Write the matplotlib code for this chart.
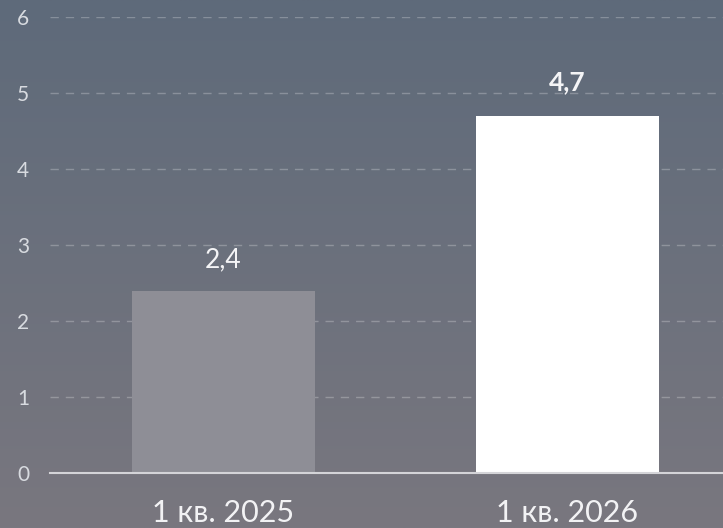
import numpy as np
import matplotlib
matplotlib.use("Agg")
import matplotlib.pyplot as plt

categories = ["1 кв. 2025", "1 кв. 2026"]
values = [2.4, 4.7]
value_labels = ["2,4", "4,7"]
yticks = [0, 1, 2, 3, 4, 5, 6]

plt.rcParams['font.family'] = ['Lato', 'DejaVu Sans']

W, H = 723, 528
fig = plt.figure(figsize=(W / 100, H / 100), dpi=100)

# background gradient
bg = fig.add_axes([0, 0, 1, 1], zorder=-10)
top = np.array([94, 106, 122]) / 255
bot = np.array([121, 119, 127]) / 255
t = np.linspace(0, 1, 256)[:, None]
grad = top[None, :] * (1 - t) + bot[None, :] * t
grad = np.repeat(grad[:, None, :], 2, axis=1)
bg.imshow(grad, aspect='auto', extent=[0, 1, 0, 1], origin='upper')
bg.axis('off')

x0 = 50 / W
y0 = (H - 473) / H
y1 = (H - 17) / H
ax = fig.add_axes([x0, y0, 1 - x0, y1 - y0])
ax.patch.set_alpha(0)

x = np.arange(len(categories))
colors = ["#8e8e96", "#ffffff"]
ax.bar(x, values, width=0.532, color=colors, zorder=3)

ax.set_xlim(-0.504, 1.452)
ax.set_ylim(0, 6)
ax.set_yticks(yticks)
ax.set_yticklabels([str(v) for v in yticks])
for yv in yticks[1:]:
    ax.axhline(yv, color=(1, 1, 1, 0.25), lw=1, ls=(0, (6, 5)), zorder=1)

for s in ['top', 'right', 'left']:
    ax.spines[s].set_visible(False)
ax.spines['bottom'].set_color('#d4d4d8')
ax.spines['bottom'].set_linewidth(1.5)
ax.spines['bottom'].set_zorder(4)

ax.tick_params(axis='y', length=0, labelsize=15, labelcolor='#d8dbe0', pad=0)
for lbl in ax.get_yticklabels():
    lbl.set_horizontalalignment('left')
    lbl.set_x(-33 / (W - 50))

ax.set_xticks(x)
ax.set_xticklabels(categories)
ax.tick_params(axis='x', length=0, labelsize=22, labelcolor='#f2f2f4', pad=19)

weights = ['normal', 'bold']
offsets = [0.40, 0.44]
for xi, v, lab, w, off in zip(x, values, value_labels, weights, offsets):
    ax.text(xi, v + off, lab, ha='center', va='center', fontsize=19,
            color='#f4f4f6', fontweight=w)

fig.savefig("out.png", dpi=100)
